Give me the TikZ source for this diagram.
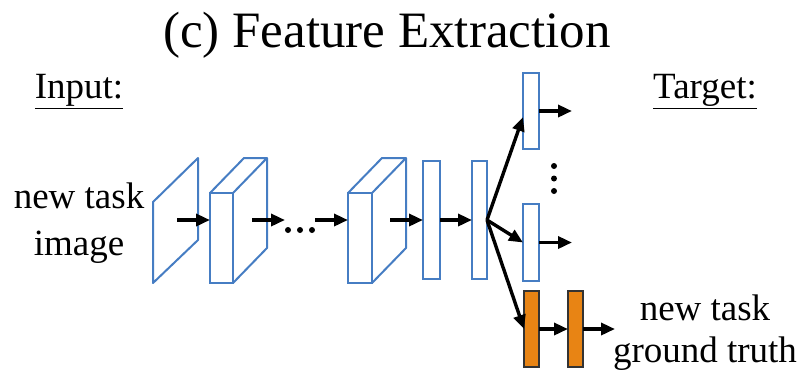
\documentclass[tikz,border=0pt]{standalone}
\usepackage{fontspec}
\setmainfont{Liberation Serif}
\usetikzlibrary{arrows.meta}
\definecolor{cblue}{RGB}{70,125,195}
\definecolor{corange}{RGB}{232,132,20}
\tikzset{
  blu/.style={draw=cblue, line width=1pt, fill=white, inner sep=0pt, outer sep=0pt},
  org/.style={draw=black!80, line width=1pt, fill=corange, inner sep=0pt, outer sep=0pt},
  arr/.style={-{Triangle[length=7pt,width=6pt]}, line width=1.7pt},
  lbl/.style={font=\fontsize{18.5}{23.5}\selectfont, inner sep=0pt, align=center},
  dotc/.style={fill=black, circle, inner sep=0pt, minimum size=3pt}
}
\begin{document}
\begin{tikzpicture}[x=0.5pt,y=-0.5pt]
\useasboundingbox (0,0) rectangle (804,372);
% texts
\node[lbl, anchor=base, font=\fontsize{25.5}{30}\selectfont] (title) at (387,47) {(c) Feature Extraction};
\node[lbl, anchor=base] (inp) at (79,98) {\underline{Input:}};
\node[lbl, anchor=base] (tgt) at (705,98) {\underline{Target:}};
\node[lbl, anchor=base] (nti) at (79,255) {new task\\image};
\node[lbl, anchor=base, font=\fontsize{18.5}{21}\selectfont] (ntg) at (705,362) {new task\\ground truth};
% input plane
\draw[cblue, line width=1pt, line join=round] (153,202) -- (198,158) -- (198,240) -- (153,283) -- cycle;
\coordinate (p1c) at (177,220);
% box 1
\node[blu, minimum width=11.5pt, minimum height=45pt] (b1) at (221.5,238) {};
\draw[cblue, line width=1pt, line join=round] (b1.north west) -- ++(34,-35) -- ++(23,0) -- (b1.north east)
  (b1.north east) ++(34,-35) -- ++(0,90) -- (b1.south east);
\coordinate (b1c) at (252,220);
% dots
\node[dotc] (d1) at (288,230) {};
\node[dotc] (d2) at (300,230) {};
\node[dotc] (d3) at (312,230) {};
\coordinate (dc) at (315,220);
\coordinate (de) at (285,220);
% box 2
\node[blu, minimum width=12pt, minimum height=45pt] (b2) at (360,238) {};
\draw[cblue, line width=1pt, line join=round] (b2.north west) -- ++(34,-35) -- ++(24,0) -- (b2.north east)
  (b2.north east) ++(34,-35) -- ++(0,90) -- (b2.south east);
\coordinate (b2c) at (390,220);
% bars
\node[blu, minimum width=8.5pt, minimum height=59pt] (f1) at (431.5,220) {};
\node[blu, minimum width=7.5pt, minimum height=59pt] (f2) at (479.5,220) {};
\node[blu, minimum width=8pt, minimum height=38pt] (ub) at (531,111) {};
\node[blu, minimum width=8pt, minimum height=38.5pt] (lb) at (531,242.5) {};
\node[org, minimum width=7.5pt, minimum height=38pt] (o1) at (531.5,329) {};
\node[org, minimum width=7.5pt, minimum height=38pt] (o2) at (575.5,329) {};
% vertical dots
\node[dotc] (v1) at (554,166) {};
\node[dotc] (v2) at (554,178.5) {};
\node[dotc] (v3) at (554,191) {};
% outputs
\coordinate (uo) at (572,111);
\coordinate (lo) at (572,242.5);
\coordinate (oo) at (615,329);
% arrows
\draw[arr] (p1c) -- (p1c -| b1.west);
\draw[arr] (b1c) -- (de);
\draw[arr] (dc) -- (dc -| b2.west);
\draw[arr] (b2c) -- (f1.west);
\draw[arr] (f1.east) -- (f2.west);
\draw[arr] (f2.east) -- ([yshift=-3pt]ub.west);
\draw[arr] (f2.east) -- (lb.west);
\draw[arr] (f2.east) -- (o1.west);
\draw[arr] (ub.east) -- (uo);
\draw[arr] (lb.east) -- (lo);
\draw[arr] (o1.east) -- (o2.west);
\draw[arr] (o2.east) -- (oo);
\end{tikzpicture}
\end{document}
